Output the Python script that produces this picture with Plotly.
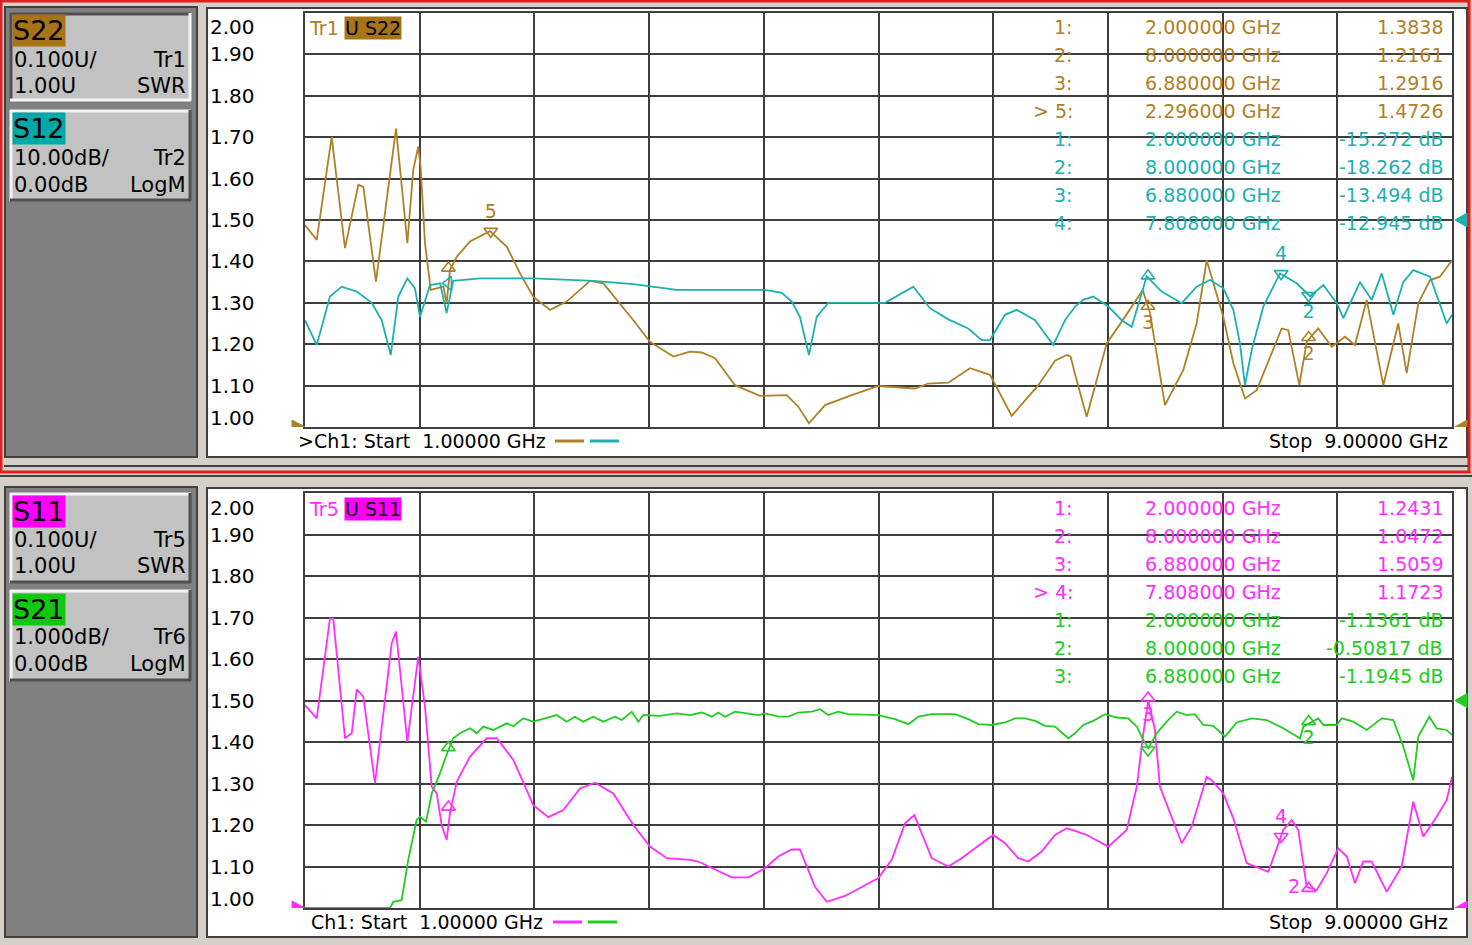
import plotly.graph_objects as go

W, H = 1472, 945
FONT = "DejaVu Sans"

x_start, x_stop = 1.0, 9.0  # GHz
swr_ticks = [2.0, 1.9, 1.8, 1.7, 1.6, 1.5, 1.4, 1.3, 1.2, 1.1, 1.0]

s22_freq = [1.000, 1.082, 1.186, 1.279, 1.372, 1.407, 1.495, 1.635, 1.714, 1.755, 1.790, 1.807, 1.837, 1.877,
            1.965, 1.988, 2.011, 2.058, 2.151, 2.290, 2.407, 2.500, 2.592, 2.709, 2.825, 2.988, 3.081, 3.197,
            3.290, 3.406, 3.569, 3.685, 3.767, 3.860, 3.999, 4.173, 4.360, 4.441, 4.515, 4.627, 4.813, 4.999,
            5.138, 5.255, 5.347, 5.487, 5.638, 5.778, 5.929, 6.115, 6.231, 6.313, 6.340, 6.369, 6.452, 6.592,
            6.719, 6.843, 6.894, 6.998, 7.126, 7.219, 7.289, 7.405, 7.475, 7.556, 7.638, 7.731, 7.812, 7.858,
            7.935, 7.987, 8.067, 8.161, 8.254, 8.323, 8.405, 8.521, 8.625, 8.684, 8.765, 8.847, 8.916, 9.000]
s22_swr = [1.488, 1.452, 1.701, 1.432, 1.585, 1.580, 1.351, 1.721, 1.444, 1.621, 1.677, 1.626, 1.444, 1.331,
           1.339, 1.299, 1.379, 1.411, 1.448, 1.473, 1.436, 1.371, 1.315, 1.283, 1.303, 1.353, 1.347, 1.299,
           1.258, 1.206, 1.170, 1.182, 1.180, 1.166, 1.101, 1.075, 1.077, 1.049, 1.009, 1.053, 1.077, 1.099,
           1.096, 1.093, 1.105, 1.107, 1.142, 1.126, 1.027, 1.101, 1.160, 1.174, 1.170, 1.130, 1.025, 1.202,
           1.266, 1.331, 1.275, 1.053, 1.138, 1.250, 1.403, 1.266, 1.154, 1.069, 1.089, 1.170, 1.238, 1.234,
           1.101, 1.206, 1.238, 1.194, 1.218, 1.198, 1.307, 1.101, 1.250, 1.130, 1.299, 1.355, 1.363, 1.403]

s12_freq = [1.000, 1.082, 1.174, 1.256, 1.361, 1.465, 1.535, 1.598, 1.651, 1.714, 1.767, 1.802, 1.872, 1.942,
            1.988, 2.034, 2.221, 2.592, 3.011, 3.290, 3.593, 4.208, 4.325, 4.395, 4.452, 4.515, 4.569, 4.650,
            5.045, 5.138, 5.243, 5.359, 5.487, 5.626, 5.720, 5.778, 5.882, 5.964, 6.092, 6.219, 6.301, 6.371,
            6.428, 6.498, 6.603, 6.696, 6.766, 6.871, 6.975, 7.115, 7.219, 7.312, 7.405, 7.475, 7.521, 7.556,
            7.603, 7.684, 7.800, 7.917, 8.010, 8.103, 8.196, 8.242, 8.358, 8.440, 8.510, 8.591, 8.660, 8.730,
            8.847, 8.963, 9.000]
s12_db = [-24.2, -30.2, -18.5, -16.1, -17.3, -20.0, -24.2, -32.6, -18.5, -14.1, -16.5, -23.4, -15.7, -15.3,
          -22.5, -14.7, -14.1, -14.1, -14.7, -15.5, -16.9, -16.9, -17.6, -19.7, -23.4, -32.6, -23.4, -20.0,
          -20.0, -18.1, -16.1, -21.3, -24.0, -26.2, -29.0, -29.0, -22.9, -21.7, -24.2, -30.2, -24.2, -20.9,
          -19.3, -18.5, -20.9, -24.2, -25.8, -13.6, -17.3, -20.1, -16.1, -14.5, -16.5, -21.7, -29.8, -39.9,
          -31.4, -20.9, -12.9, -15.3, -18.4, -15.7, -20.1, -23.7, -15.0, -19.3, -12.9, -22.9, -15.0, -12.1,
          -13.7, -25.0, -22.9]

s11_freq = [1.000, 1.082, 1.174, 1.197, 1.279, 1.326, 1.361, 1.407, 1.488, 1.605, 1.635, 1.714, 1.790, 1.837,
            1.884, 1.919, 1.953, 1.988, 2.011, 2.058, 2.151, 2.267, 2.337, 2.453, 2.592, 2.697, 2.802, 2.918,
            3.023, 3.150, 3.290, 3.406, 3.523, 3.685, 3.743, 3.837, 3.976, 4.092, 4.208, 4.301, 4.395, 4.452,
            4.557, 4.639, 4.766, 4.906, 4.999, 5.092, 5.185, 5.250, 5.371, 5.487, 5.580, 5.673, 5.801, 5.882,
            5.975, 6.045, 6.138, 6.231, 6.313, 6.371, 6.452, 6.603, 6.731, 6.801, 6.847, 6.882, 6.928, 6.963,
            7.033, 7.115, 7.184, 7.289, 7.324, 7.405, 7.475, 7.568, 7.719, 7.823, 7.882, 7.928, 7.987, 8.056,
            8.126, 8.207, 8.266, 8.323, 8.381, 8.440, 8.545, 8.649, 8.730, 8.800, 8.893, 8.963, 9.000]
s11_swr = [1.489, 1.457, 1.698, 1.698, 1.409, 1.421, 1.527, 1.509, 1.300, 1.638, 1.666, 1.400, 1.606, 1.485,
           1.292, 1.276, 1.200, 1.164, 1.228, 1.304, 1.365, 1.409, 1.409, 1.357, 1.248, 1.219, 1.236, 1.288,
           1.302, 1.276, 1.200, 1.148, 1.120, 1.116, 1.112, 1.096, 1.074, 1.074, 1.096, 1.124, 1.141, 1.141,
           1.051, 1.015, 1.029, 1.055, 1.072, 1.116, 1.204, 1.224, 1.120, 1.100, 1.120, 1.144, 1.176, 1.156,
           1.120, 1.112, 1.136, 1.176, 1.192, 1.186, 1.176, 1.148, 1.188, 1.292, 1.421, 1.500, 1.429, 1.292,
           1.228, 1.156, 1.196, 1.316, 1.308, 1.276, 1.216, 1.108, 1.087, 1.188, 1.212, 1.188, 1.051, 1.043,
           1.084, 1.144, 1.124, 1.060, 1.112, 1.112, 1.039, 1.100, 1.256, 1.172, 1.220, 1.260, 1.316]

s21_freq = [1.000, 1.593, 1.616, 1.674, 1.720, 1.779, 1.802, 1.844, 1.884, 1.942, 1.988, 2.034, 2.081, 2.151,
            2.198, 2.244, 2.313, 2.407, 2.453, 2.523, 2.592, 2.756, 2.825, 2.883, 2.941, 3.011, 3.081, 3.162,
            3.209, 3.279, 3.325, 3.360, 3.476, 3.593, 3.685, 3.767, 3.837, 3.883, 3.929, 3.999, 4.162, 4.208,
            4.301, 4.371, 4.441, 4.534, 4.592, 4.650, 4.720, 4.789, 4.999, 5.115, 5.208, 5.278, 5.371, 5.534,
            5.626, 5.696, 5.789, 5.882, 5.952, 6.022, 6.092, 6.161, 6.231, 6.324, 6.371, 6.428, 6.498, 6.580,
            6.661, 6.742, 6.801, 6.847, 6.882, 6.940, 7.010, 7.080, 7.150, 7.207, 7.265, 7.335, 7.417, 7.498,
            7.603, 7.707, 7.823, 7.940, 7.963, 8.067, 8.103, 8.196, 8.231, 8.312, 8.405, 8.510, 8.591, 8.660,
            8.730, 8.765, 8.842, 8.893, 8.963, 9.000]
s21_db = [-5.0, -5.0, -4.85, -4.81, -3.84, -2.88, -2.80, -2.92, -2.24, -1.75, -1.30, -0.91, -0.79, -0.67,
          -0.79, -0.63, -0.71, -0.55, -0.62, -0.43, -0.51, -0.35, -0.51, -0.39, -0.51, -0.39, -0.51, -0.39,
          -0.47, -0.27, -0.51, -0.35, -0.37, -0.31, -0.35, -0.29, -0.39, -0.29, -0.39, -0.27, -0.35, -0.31,
          -0.39, -0.39, -0.29, -0.27, -0.21, -0.35, -0.27, -0.33, -0.35, -0.45, -0.57, -0.39, -0.33, -0.33,
          -0.45, -0.57, -0.59, -0.53, -0.43, -0.43, -0.49, -0.61, -0.63, -0.91, -0.79, -0.59, -0.49, -0.33,
          -0.41, -0.43, -0.63, -0.95, -1.15, -0.79, -0.51, -0.27, -0.35, -0.33, -0.59, -0.61, -0.87, -0.53,
          -0.43, -0.47, -0.67, -0.91, -0.63, -0.43, -0.59, -0.59, -0.43, -0.51, -0.71, -0.43, -0.47, -1.11,
          -1.92, -0.87, -0.39, -0.67, -0.71, -0.83]

# marker readouts
s22_mk_id = ["1", "2", "3", "5"]
s22_mk_freq = [2.0, 8.0, 6.88, 2.296]
s22_mk_val = [1.3838, 1.2161, 1.2916, 1.4726]
s12_mk_id = ["1", "2", "3", "4"]
s12_mk_freq = [2.0, 8.0, 6.88, 7.808]
s12_mk_val = [-15.272, -18.262, -13.494, -12.945]
s11_mk_id = ["1", "2", "3", "4"]
s11_mk_freq = [2.0, 8.0, 6.88, 7.808]
s11_mk_val = [1.2431, 1.0472, 1.5059, 1.1723]
s21_mk_id = ["1", "2", "3"]
s21_mk_freq = [2.0, 8.0, 6.88]
s21_mk_val = [-1.1361, -0.50817, -1.1945]

# ---------------- styles ----------------
C_S22, BG_S22 = "#B08028", "#A8741A"
C_S12, BG_S12 = "#1CB0B0", "#00A8A8"
C_S11, BG_S11 = "#FF2EFF", "#FF00FF"
C_S21, BG_S21 = "#22CC22", "#10C810"
GRID = "#3E3E3E"
WIN = "#D4D0C8"
NB = "\u00a0"


def X(px):
    return px / W


def Y(py):
    return 1 - py / H


shapes = []
annotations = []


def rect(x0, y0, x1, y1, fill="rgba(0,0,0,0)", line=None, lw=0):
    shapes.append(dict(type="rect", xref="paper", yref="paper", x0=X(x0), x1=X(x1), y0=Y(y1), y1=Y(y0),
                       fillcolor=fill, line=dict(color=line or "rgba(0,0,0,0)", width=lw), layer="below"))


def hline(x0, x1, y, color, lw=2, layer="below"):
    shapes.append(dict(type="line", xref="paper", yref="paper", x0=X(x0), x1=X(x1), y0=Y(y), y1=Y(y),
                       line=dict(color=color, width=lw), layer=layer))


def vline(x, y0, y1, color, lw=2):
    shapes.append(dict(type="line", xref="paper", yref="paper", x0=X(x), x1=X(x), y0=Y(y0), y1=Y(y1),
                       line=dict(color=color, width=lw), layer="below"))


def bevel(x0, y0, x1, y1, raised=True):
    rect(x0, y0, x1, y1, fill="#C2C2C2")
    lt, rb = ("#F4F4F4", "#505050") if raised else ("#505050", "#F4F4F4")
    hline(x0, x1, y0 + 1, lt, 3)
    vline(x0 + 1, y0, y1, lt, 3)
    hline(x0, x1, y1 - 1, rb, 3)
    vline(x1 - 1, y0, y1, rb, 3)


def txt(s, px, py, size=19, color="#000000", anchor="left", bg="rgba(0,0,0,0)"):
    annotations.append(dict(text=s, x=X(px), y=Y(py), xref="paper", yref="paper", xanchor=anchor,
                            yanchor="middle", showarrow=False, bgcolor=bg, borderpad=0,
                            font=dict(family=FONT, size=size, color=color)))


# ---------------- window chrome ----------------
# top channel window (active, red frame)
rect(1, 1, 1469, 472, line="#E02020", lw=3)
hline(4, 1468, 466, "#404040", 2)
rect(5, 7, 197, 457, fill="#808080", line="#404040", lw=2)
rect(207, 8, 1467, 457, fill="#FFFFFF", line="#404040", lw=2)
bevel(10, 13, 191, 101, raised=False)
bevel(10, 110, 191, 201, raised=True)
# bottom channel window
hline(0, 1472, 476, "#404040", 2)
rect(5, 487, 197, 937, fill="#808080", line="#404040", lw=2)
rect(207, 488, 1467, 937, fill="#FFFFFF", line="#404040", lw=2)
bevel(10, 493, 191, 583, raised=True)
bevel(10, 590, 191, 681, raised=True)

# left-panel labels
panel_rows = [
    ("S22", BG_S22, 30, "0.100U/", "Tr1", "1.00U", "SWR", 60, 86),
    ("S12", BG_S12, 129, "10.00dB/", "Tr2", "0.00dB", "LogM", 158, 185),
    ("S11", BG_S11, 511, "0.100U/", "Tr5", "1.00U", "SWR", 540, 566),
    ("S21", BG_S21, 609, "1.000dB/", "Tr6", "0.00dB", "LogM", 637, 664),
]
for name, bg, yn, scale, tr, ref, fmt, y1, y2 in panel_rows:
    txt(name, 12, yn, size=27, bg=bg)
    txt(scale, 13, y1, size=21)
    txt(tr, 187, y1, size=21, anchor="right")
    txt(ref, 13, y2, size=21)
    txt(fmt, 187, y2, size=21, anchor="right")

# trace title badges inside the grids
txt("Tr1", 308, 28, color=C_S22)
txt("U S22", 344, 28, color="#000000", bg=BG_S22)
txt("Tr5", 308, 509, color=C_S11)
txt("U S11", 344, 509, color="#000000", bg=BG_S11)

# footers
txt(">Ch1:" + NB + "Start" + NB + NB + f"{x_start:.5f}" + NB + "GHz", 297, 441)
txt("Stop" + NB + NB + f"{x_stop:.5f}" + NB + "GHz", 1449, 441, anchor="right")
txt("Ch1:" + NB + "Start" + NB + NB + f"{x_start:.5f}" + NB + "GHz", 310, 922)
txt("Stop" + NB + NB + f"{x_stop:.5f}" + NB + "GHz", 1449, 922, anchor="right")
hline(555, 584, 441, C_S22, 3, layer="above")
hline(590, 619, 441, C_S12, 3, layer="above")
hline(553, 582, 922, C_S11, 3, layer="above")
hline(588, 617, 922, C_S21, 3, layer="above")

# marker readout tables
def table(rows, y0, active=None):
    for i, (mid, f, v, unit, color) in enumerate(rows):
        py = y0 + 28 * i
        label = ("> " if (active is not None and i == active) else "") + mid + ":"
        txt(label, 1074, py, color=color, anchor="right")
        txt(f"{f:.6f}" + NB + "GHz", 1144, py, color=color)
        txt(f"{v:.5g}" + unit, 1444, py, color=color, anchor="right")


top_rows = [(m, f, v, "", C_S22) for m, f, v in zip(s22_mk_id, s22_mk_freq, s22_mk_val)] + \
           [(m, f, v, NB + "dB", C_S12) for m, f, v in zip(s12_mk_id, s12_mk_freq, s12_mk_val)]
bot_rows = [(m, f, v, "", C_S11) for m, f, v in zip(s11_mk_id, s11_mk_freq, s11_mk_val)] + \
           [(m, f, v, NB + "dB", C_S21) for m, f, v in zip(s21_mk_id, s21_mk_freq, s21_mk_val)]
table(top_rows, 27, active=3)
table(bot_rows, 508, active=3)

# y tick labels (SWR scale)
for ax, top_shift in (("y", -14), ("y3", -15)):
    for v in swr_ticks:
        shift = top_shift if v == swr_ticks[0] else (9 if v == swr_ticks[-1] else 0)
        annotations.append(dict(text=f"{v:.2f}", x=X(257), xref="paper", y=v, yref=ax, xanchor="right",
                                yanchor="middle", yshift=shift, showarrow=False,
                                font=dict(family=FONT, size=20, color="#000000")))

# reference-level triangles at the grid edges
def ref_tri(yref, level, color, side):
    if side == "left":
        path, anchor = "M 0,0 L -13,7 L -13,-7 Z", X(305)
    else:
        path, anchor = "M 3,0 L 15,7 L 15,-7 Z", X(1452)
    shapes.append(dict(type="path", path=path, xref="paper", xsizemode="pixel", xanchor=anchor,
                       yref=yref, ysizemode="pixel", yanchor=level, fillcolor=color,
                       line=dict(color=color, width=1), layer="above"))


ref_tri("y", 1.0, C_S22, "left")
ref_tri("y", 1.0, C_S22, "right")
ref_tri("y2", 0.0, C_S12, "right")
ref_tri("y3", 1.0, C_S11, "left")
ref_tri("y3", 1.0, C_S11, "right")
ref_tri("y4", 0.0, C_S21, "right")

# ---------------- traces ----------------
fig = go.Figure()
LW = 1.8
fig.add_trace(go.Scatter(x=s22_freq, y=s22_swr, mode="lines", line=dict(color=C_S22, width=LW),
                         xaxis="x", yaxis="y"))
fig.add_trace(go.Scatter(x=s12_freq, y=s12_db, mode="lines", line=dict(color=C_S12, width=LW),
                         xaxis="x", yaxis="y2"))
fig.add_trace(go.Scatter(x=s11_freq, y=s11_swr, mode="lines", line=dict(color=C_S11, width=LW),
                         xaxis="x2", yaxis="y3"))
fig.add_trace(go.Scatter(x=s21_freq, y=s21_db, mode="lines", line=dict(color=C_S21, width=LW),
                         xaxis="x2", yaxis="y4"))


def marker_trace(freqs, vals, labels, symbols, positions, color, xa, ya):
    fig.add_trace(go.Scatter(x=freqs, y=vals, mode="markers+text", text=labels, textposition=positions,
                             marker=dict(symbol=symbols, size=12, color=color, line=dict(color=color, width=1.6)),
                             textfont=dict(family=FONT, size=19, color=color), cliponaxis=False,
                             xaxis=xa, yaxis=ya))


marker_trace(s22_mk_freq, s22_mk_val, ["", "2", "3", "5"],
             ["triangle-up-open", "triangle-up-open", "triangle-up-open", "triangle-down-open"],
             ["bottom center", "bottom center", "bottom center", "top center"], C_S22, "x", "y")
marker_trace(s12_mk_freq, s12_mk_val, ["", "2", "", "4"],
             ["triangle-left-open", "triangle-down-open", "triangle-up-open", "triangle-down-open"],
             ["bottom center", "bottom center", "bottom center", "top center"], C_S12, "x", "y2")
marker_trace(s11_mk_freq, s11_mk_val, ["", "2", "3", "4"],
             ["triangle-up-open", "triangle-up-open", "triangle-up-open", "triangle-down-open"],
             ["bottom center", "middle left", "bottom center", "top center"], C_S11, "x2", "y3")
marker_trace(s21_mk_freq, s21_mk_val, ["", "2", ""],
             ["triangle-up-open", "triangle-up-open", "triangle-down-open"],
             ["bottom center", "bottom center", "bottom center"], C_S21, "x2", "y4")

grid_axis = dict(showgrid=True, gridcolor=GRID, gridwidth=2, zeroline=False, showticklabels=False,
                 ticks="", showline=True, mirror=True, linecolor=GRID, linewidth=2, fixedrange=True)
xdom = [X(305), X(1452)]
fig.update_layout(
    width=W, height=H, autosize=False, showlegend=False,
    margin=dict(l=0, r=0, t=0, b=0, pad=0),
    paper_bgcolor=WIN, plot_bgcolor="#FFFFFF",
    xaxis=dict(domain=xdom, range=[x_start, x_stop], tick0=x_start, dtick=(x_stop - x_start) / 10,
               anchor="y", **grid_axis),
    yaxis=dict(domain=[Y(427), Y(13)], range=[1.0, 2.0], tick0=1.0, dtick=0.1, anchor="x", **grid_axis),
    yaxis2=dict(overlaying="y", range=[-50, 50], visible=False, anchor="x", fixedrange=True),
    xaxis2=dict(domain=xdom, range=[x_start, x_stop], tick0=x_start, dtick=(x_stop - x_start) / 10,
                anchor="y3", **grid_axis),
    yaxis3=dict(domain=[Y(908), Y(493)], range=[1.0, 2.0], tick0=1.0, dtick=0.1, anchor="x2", **grid_axis),
    yaxis4=dict(overlaying="y3", range=[-5, 5], visible=False, anchor="x2", fixedrange=True),
    shapes=shapes, annotations=annotations,
)

fig.write_html("out.html", config={"displayModeBar": False},
               post_script="document.body.style.margin='0';document.body.style.overflow='hidden';")
